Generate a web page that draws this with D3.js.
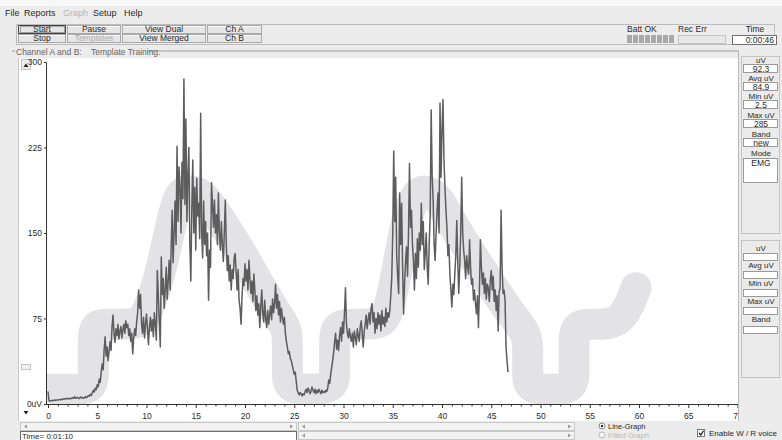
<!DOCTYPE html>
<html><head><meta charset="utf-8">
<script src="https://cdn.jsdelivr.net/npm/d3@7"></script>
<style>
body{margin:0;background:#ececec;}
svg{display:block;font-family:"Liberation Sans",Arial,sans-serif;}
</style></head><body>
<svg id="app" width="782" height="440"></svg>
<script>
// EMG amplitude (uV), one sample every 0.1 s starting at t = 0
const sampleStart = 0;
const sampleStep = 0.1;
const uv = [
  11, 3, 2.5, 3, 2.8, 3.2, 3, 3.5, 3.3, 3.6,
  3.4, 3.8, 4, 3.7, 4.2, 4, 4.6, 4.3, 4.8, 4.5,
  5, 4.6, 4.4, 5.2, 4.8, 5.5, 4.9, 6.5, 5.3, 5,
  5.8, 5.2, 4.8, 6.2, 5.5, 5.8, 4.9, 5.4, 6.6, 5.6,
  6.2, 7.5, 6.8, 8.5, 7.6, 9.8, 12, 10.5, 14, 12.5,
  17, 15, 22, 19, 28, 35, 30, 48, 59, 42,
  50, 38, 46, 55, 47, 68, 78, 62, 54, 66,
  60, 70, 57, 64, 68, 58, 65, 70, 62, 73,
  67, 70, 60, 66, 55, 62, 44, 58, 66, 60,
  72, 80, 100, 84, 96, 70, 62, 76, 58, 70,
  79, 66, 52, 68, 76, 64, 74, 59, 80, 70,
  56, 117, 95, 72, 50, 129, 96, 110, 84, 100,
  120, 92, 108, 126, 100, 135, 170, 124, 150, 178,
  140, 226, 160, 208, 190, 150, 212, 180, 285, 175,
  250, 160, 200, 225, 140, 108, 170, 214, 150, 190,
  135, 198, 165, 176, 145, 255, 150, 128, 178, 140,
  160, 130, 150, 91, 135, 120, 194, 175, 155, 179,
  150, 166, 140, 185, 150, 135, 160, 140, 125, 150,
  179, 140, 117, 130, 108, 122, 100, 118, 110, 128,
  132, 115, 100, 118, 91, 84, 70, 95, 110, 104,
  123, 108, 118, 100, 126, 110, 97, 108, 90, 114,
  100, 82, 95, 78, 88, 67, 85, 100, 80, 72,
  91, 75, 67, 82, 70, 79, 86, 74, 92, 80,
  88, 105, 84, 96, 78, 90, 72, 84, 76, 70,
  76, 62, 55, 50, 44, 46, 40, 38, 34, 30,
  26, 28, 20, 12, 10, 8, 10, 9, 7, 9,
  8, 11, 13, 10, 14, 12, 9, 11, 15, 12,
  10, 13, 9, 12, 10, 13, 11, 9, 12, 10,
  11, 10, 12, 11, 14, 21, 18, 26, 32, 38,
  45, 55, 62, 48, 56, 47, 60, 67, 55, 72,
  62, 80, 102, 70, 62, 58, 66, 59, 55, 62,
  50, 64, 58, 52, 66, 60, 55, 68, 73, 62,
  50, 64, 70, 78, 66, 74, 80, 70, 84, 88,
  72, 80, 62, 75, 66, 80, 70, 78, 64, 82,
  70, 76, 68, 84, 72, 80, 76, 82, 95, 111,
  150, 222, 160, 199, 130, 112, 97, 185, 140, 176,
  120, 79, 105, 125, 138, 112, 150, 211, 155, 170,
  140, 126, 100, 132, 110, 145, 120, 150, 135, 176,
  140, 160, 118, 132, 150, 120, 105, 140, 165, 258,
  200, 179, 140, 126, 150, 170, 185, 150, 264, 199,
  240, 267, 214, 190, 170, 155, 130, 140, 114, 100,
  85, 105, 96, 114, 130, 161, 125, 97, 120, 150,
  199, 150, 135, 126, 110, 130, 120, 114, 144, 120,
  105, 110, 91, 100, 88, 79, 95, 67, 100, 144,
  120, 105, 115, 97, 110, 92, 105, 102, 90, 108,
  117, 100, 112, 90, 100, 82, 95, 64, 98, 102,
  170, 120, 97, 100, 91, 50, 38, 28
];

// Training template: guide path (seconds, uV)
const templateTime = [-3, 0, 2.6, 4.6, 4.6, 4.6, 4.6, 6.2, 8.5, 9.8, 11.3, 12.3, 13.2, 14.5, 15.8, 17, 19, 21.5, 23.4, 24.3, 24.3, 24.3, 24.3, 26.5, 29.1, 29.1, 29.1, 29.1, 31, 33.4, 34.4, 35.3, 36.3, 37.3, 38.5, 39.8, 41, 44, 47, 48.7, 48.7, 48.7, 48.7, 51, 53.4, 53.4, 53.4, 53.4, 55.5, 58.3, 59.7];
const templateLevel = [13, 13, 13, 13, 30, 52, 70, 70, 70, 72, 110, 150, 186, 188, 184, 168, 142, 104, 76, 66, 50, 30, 13, 13, 13, 30, 50, 70, 70, 70, 74, 110, 160, 186, 188, 180, 158, 118, 78, 62, 45, 28, 13, 13, 13, 30, 50, 70, 70, 70, 102];

const xTicks = d3.range(0, 71, 1);
const yTicks = [0, 75, 150, 225, 300];

const menuItems = ["File", "Reports", "Graph", "Setup", "Help"];
const buttonRow1 = ["Start", "Pause", "View Dual", "Ch A"];
const buttonRow2 = ["Stop", "Templates", "View Merged", "Ch B"];
const readoutLabelsA = ["uV", "Avg uV", "Min uV", "Max uV", "Band", "Mode"];
const readoutValuesA = ["92.3", "84.9", "2.5", "285", "new", "EMG"];
const readoutLabelsB = ["uV", "Avg uV", "Min uV", "Max uV", "Band"];

const svg = d3.select("#app");
const TXT = "#2a2a2a";

// ---------- window chrome ----------
svg.append("rect").attr("width", 782).attr("height", 440).attr("fill", "#ececec");
svg.append("rect").attr("width", 782).attr("height", 6).attr("fill", "#f7f7f7");

const menuX = [5, 24, 63, 93, 124];
svg.append("g").selectAll("text").data(menuItems).join("text")
  .attr("x", (d, i) => menuX[i]).attr("y", 16)
  .attr("font-size", 9)
  .attr("fill", d => d === "Graph" ? "#b4b4b4" : TXT)
  .text(d => d);

// toolbar frame
svg.append("rect").attr("x", 16.5).attr("y", 24.5).attr("width", 758).attr("height", 20)
  .attr("fill", "none").attr("stroke", "#bcbcbc");

const btnCols = [[18, 66], [67, 121], [122, 206], [207, 262]];
function drawButtons(labels, y0, h) {
  const g = svg.append("g");
  labels.forEach((lab, i) => {
    const [a, b] = btnCols[i];
    g.append("rect").attr("x", a + 0.5).attr("y", y0 + 0.5).attr("width", b - a - 1).attr("height", h - 1)
      .attr("fill", "#e6e6e6").attr("stroke", "#a9a9a9");
    g.append("line").attr("x1", a + 1).attr("x2", b - 1).attr("y1", y0 + 1.5).attr("y2", y0 + 1.5).attr("stroke", "#fbfbfb");
    g.append("text").attr("x", (a + b) / 2).attr("y", y0 + h - 2)
      .attr("text-anchor", "middle").attr("font-size", 8.5)
      .attr("fill", lab === "Templates" ? "#b0b0b0" : TXT)
      .text(lab);
  });
  return g;
}
drawButtons(buttonRow1, 25, 9);
drawButtons(buttonRow2, 34, 9);
// default-button focus rectangle
svg.append("rect").attr("x", 20.5).attr("y", 26.5).attr("width", 44).attr("height", 6)
  .attr("fill", "none").attr("stroke", "#555").attr("stroke-dasharray", "1,1");
svg.append("rect").attr("x", 18.5).attr("y", 25.5).attr("width", 47).attr("height", 8)
  .attr("fill", "none").attr("stroke", "#444");

// status indicators
svg.append("text").attr("x", 627).attr("y", 32).attr("font-size", 8.5).attr("fill", TXT).text("Batt OK");
svg.append("g").selectAll("rect").data(d3.range(8)).join("rect")
  .attr("x", d => 627 + d * 6).attr("y", 35).attr("width", 5).attr("height", 8).attr("fill", "#a9a9a9");
svg.append("text").attr("x", 678).attr("y", 32).attr("font-size", 8.5).attr("fill", TXT).text("Rec Err");
svg.append("rect").attr("x", 678.5).attr("y", 35.5).attr("width", 47).attr("height", 8)
  .attr("fill", "#e8e8e8").attr("stroke", "#c4c4c4");
svg.append("text").attr("x", 755).attr("y", 32).attr("text-anchor", "middle").attr("font-size", 8.5).attr("fill", TXT).text("Time");
svg.append("rect").attr("x", 732.5).attr("y", 35.5).attr("width", 44).attr("height", 9)
  .attr("fill", "#fff").attr("stroke", "#6e6e6e");
svg.append("text").attr("x", 774).attr("y", 43).attr("text-anchor", "end").attr("font-size", 8.5).attr("fill", TXT).text("0:00:46");

// plot surface
svg.append("rect").attr("x", 18).attr("y", 58).attr("width", 720).attr("height", 363).attr("fill", "#fff");
svg.append("line").attr("x1", 738.5).attr("x2", 738.5).attr("y1", 50).attr("y2", 421).attr("stroke", "#b8b8b8");
svg.append("line").attr("x1", 18.5).attr("x2", 18.5).attr("y1", 58).attr("y2", 421).attr("stroke", "#c8c8c8");

// channel group box caption
svg.append("line").attr("x1", 12).attr("x2", 15).attr("y1", 51).attr("y2", 51).attr("stroke", "#c4c4c4").attr("stroke-width", 2);
svg.append("line").attr("x1", 147).attr("x2", 738).attr("y1", 51).attr("y2", 51).attr("stroke", "#c4c4c4").attr("stroke-width", 2);
svg.append("text").attr("x", 16).attr("y", 55).attr("font-size", 8.5).attr("fill", "#666").text("Channel A and B:");
svg.append("text").attr("x", 91).attr("y", 55).attr("font-size", 8.5).attr("fill", "#666").text("Template Training.");

// vertical scroller on the left
svg.append("rect").attr("x", 21.5).attr("y", 59.5).attr("width", 9).attr("height", 10)
  .attr("fill", "#ececec").attr("stroke", "#c2c2c2");
svg.append("path").attr("d", "M23.5,67 L26,63.5 L28.5,67 Z").attr("fill", "#222");
svg.append("rect").attr("x", 21.5).attr("y", 364.5).attr("width", 9).attr("height", 5)
  .attr("fill", "#f3f3f3").attr("stroke", "#c4c4c4");
svg.append("path").attr("d", "M23.5,411 L26,414.5 L28.5,411 Z").attr("fill", "#222");

// ---------- chart ----------
const x = d3.scaleLinear().domain([0, 70]).range([48, 737.5]);
const y = d3.scaleLinear().domain([0, 300]).range([404, 62]);

const defs = svg.append("defs");
defs.append("clipPath").attr("id", "plotClip")
  .append("rect").attr("x", 46).attr("y", 58).attr("width", 692).attr("height", 347);
defs.append("clipPath").attr("id", "axisClip")
  .append("rect").attr("x", 0).attr("y", 56).attr("width", 738).attr("height", 370);

const plot = svg.append("g").attr("clip-path", "url(#plotClip)");

const templatePts = templateTime.map((t, i) => [t, templateLevel[i]]);
plot.append("path")
  .datum(templatePts)
  .attr("fill", "none")
  .attr("stroke", "#e3e3e5")
  .attr("stroke-width", 31)
  .attr("stroke-linecap", "round")
  .attr("stroke-linejoin", "round")
  .attr("d", d3.line().x(d => x(d[0])).y(d => y(d[1])).curve(d3.curveBasis));

plot.append("path")
  .datum(uv)
  .attr("fill", "none")
  .attr("stroke", "#5d5d5d")
  .attr("stroke-width", 1.5)
  .attr("stroke-linejoin", "round")
  .attr("d", d3.line().x((d, i) => x(sampleStart + i * sampleStep)).y(d => y(d)));

// axes
const axesG = svg.append("g").attr("clip-path", "url(#axisClip)");
const xAxis = axesG.append("g").attr("transform", "translate(0,404)")
  .call(d3.axisBottom(x).tickValues(xTicks).tickSizeInner(3).tickSizeOuter(0)
    .tickPadding(6).tickFormat(d => d % 5 === 0 ? d : ""));
xAxis.select(".domain").attr("d", "M46,0.5H738").attr("stroke", "#333");
xAxis.selectAll(".tick line").attr("stroke", "#333").attr("y2", d => d % 5 === 0 ? 4 : 2.5);
xAxis.selectAll(".tick text").attr("font-size", 8.5).attr("fill", TXT)
  .attr("font-family", "Liberation Sans, Arial, sans-serif");

const yAxis = axesG.append("g").attr("transform", "translate(46,0)")
  .call(d3.axisLeft(y).tickValues(yTicks).tickSizeInner(2).tickSizeOuter(0)
    .tickPadding(2).tickFormat(d => d === 0 ? "0uV" : d));
yAxis.select(".domain").attr("stroke", "#333");
yAxis.selectAll(".tick line").attr("stroke", "#333");
yAxis.selectAll(".tick text").attr("font-size", 8.5).attr("fill", TXT)
  .attr("font-family", "Liberation Sans, Arial, sans-serif");

// ---------- right readout panels ----------
function panel(y0, h, labels, values, labelYs, boxYs, boxHs) {
  const g = svg.append("g");
  g.append("rect").attr("x", 741.5).attr("y", y0 + 0.5).attr("width", 38).attr("height", h)
    .attr("fill", "#ebebeb").attr("stroke", "#c3c3c3");
  labels.forEach((lab, i) => {
    g.append("text").attr("x", 761).attr("y", labelYs[i]).attr("text-anchor", "middle")
      .attr("font-size", 8).attr("fill", TXT).text(lab);
    g.append("rect").attr("x", 743.5).attr("y", boxYs[i] + 0.5).attr("width", 34).attr("height", boxHs[i])
      .attr("fill", "#fff").attr("stroke", "#9a9a9a");
    if (values && values[i] !== undefined) {
      g.append("text").attr("x", 761).attr("y", boxYs[i] + 8).attr("text-anchor", "middle")
        .attr("font-size", 8.5).attr("fill", TXT).text(values[i]);
    }
  });
}
panel(56, 177, readoutLabelsA, readoutValuesA,
  [63, 81, 99, 118, 137, 156], [64, 82, 100, 119, 138, 158], [8, 8, 8, 8, 8, 24]);
panel(240, 137, readoutLabelsB, null,
  [251, 268, 286, 304, 322], [253, 271, 289, 307, 326], [7, 7, 7, 7, 7]);

// ---------- bottom strip ----------
function hScroll(a, b, y0) {
  const g = svg.append("g");
  g.append("rect").attr("x", a + 0.5).attr("y", y0 + 0.5).attr("width", b - a - 1).attr("height", 8)
    .attr("fill", "#f2f2f2").attr("stroke", "#c8c8c8");
  g.append("path").attr("d", `M${a + 7},${y0 + 2.5} L${a + 4},${y0 + 4.5} L${a + 7},${y0 + 6.5} Z`).attr("fill", "#999");
  g.append("path").attr("d", `M${b - 7},${y0 + 2.5} L${b - 4},${y0 + 4.5} L${b - 7},${y0 + 6.5} Z`).attr("fill", "#999");
}
hScroll(20, 297, 422);
hScroll(298, 575, 422);
hScroll(298, 575, 431);
svg.append("rect").attr("x", 20.5).attr("y", 431.5).attr("width", 276).attr("height", 9)
  .attr("fill", "#fff").attr("stroke", "#6e6e6e");
svg.append("text").attr("x", 22).attr("y", 438.5).attr("font-size", 8).attr("fill", TXT).text("Time= 0:01:10");

// graph style options
svg.append("circle").attr("cx", 602).attr("cy", 426).attr("r", 3).attr("fill", "#fff").attr("stroke", "#888");
svg.append("circle").attr("cx", 602).attr("cy", 426).attr("r", 1.2).attr("fill", "#222");
svg.append("text").attr("x", 608).attr("y", 429).attr("font-size", 7.5).attr("fill", TXT).text("Line-Graph");
svg.append("circle").attr("cx", 602).attr("cy", 435).attr("r", 3).attr("fill", "#f4f4f4").attr("stroke", "#bbb");
svg.append("text").attr("x", 608).attr("y", 438).attr("font-size", 7.5).attr("fill", "#b8b8b8").text("Filled Graph");

svg.append("rect").attr("x", 697.5).attr("y", 429.5).attr("width", 7).attr("height", 7)
  .attr("fill", "#fff").attr("stroke", "#777");
svg.append("path").attr("d", "M699,433 L700.8,435 L703.5,430.8").attr("fill", "none").attr("stroke", "#111").attr("stroke-width", 1.2);
svg.append("text").attr("x", 709).attr("y", 436).attr("font-size", 8).attr("fill", TXT).text("Enable W / R voice");
</script>
</body></html>
